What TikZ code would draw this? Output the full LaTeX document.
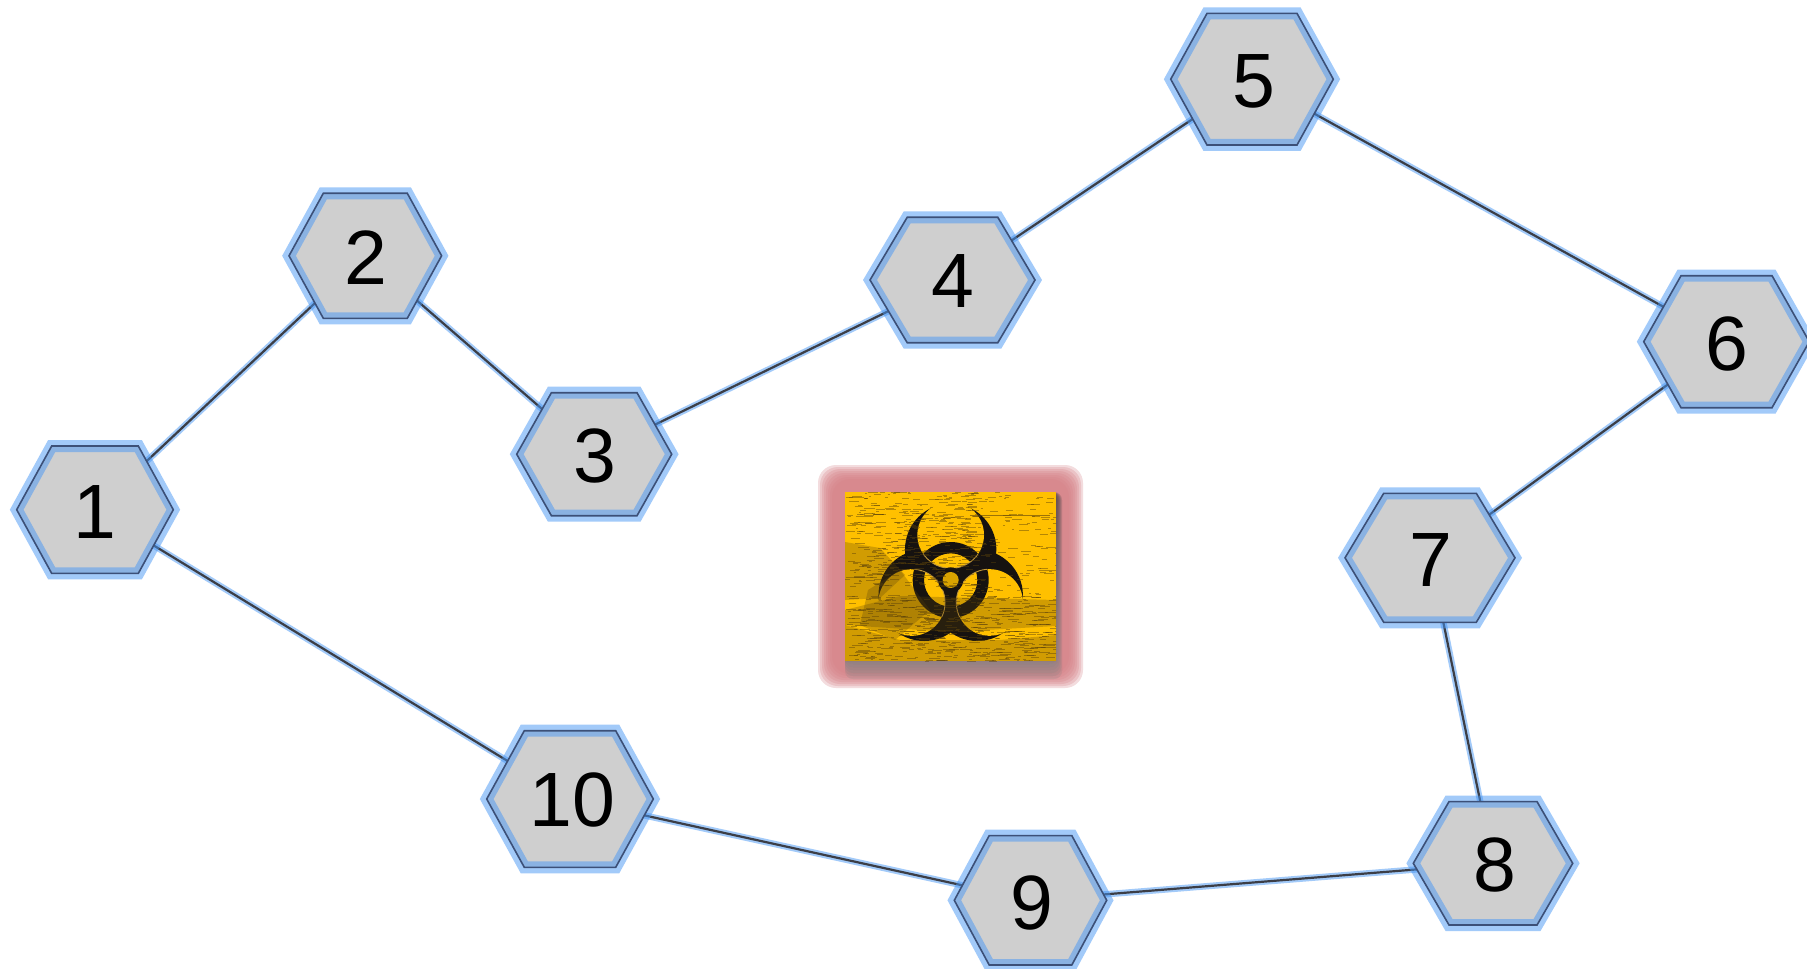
\documentclass[tikz,border=0pt]{standalone}
\usepackage{fontspec}
\setmainfont{Liberation Sans}
\usetikzlibrary{backgrounds}
\definecolor{hexgray}{RGB}{207,207,207}
\definecolor{glowblue}{RGB}{70,150,245}
\definecolor{hexdark}{RGB}{60,80,120}
\definecolor{linkdark}{RGB}{60,62,70}
\definecolor{plate}{RGB}{255,192,0}
\definecolor{halo}{RGB}{214,128,134}
\definecolor{shade}{RGB}{150,70,75}
\definecolor{inkbrown}{RGB}{90,65,10}
\definecolor{seam}{RGB}{190,150,60}
\definecolor{symbolink}{RGB}{22,18,16}
\tikzset{
  hexanchor/.style={inner sep=0pt,minimum size=2pt},
  hexfill/.style={fill=hexgray},
  hexglow/.style={draw=glowblue,draw opacity=.5,line width=6pt,miter limit=10},
  hexline/.style={draw=hexdark,line width=.8pt},
  digit/.style={inner sep=0pt,text=black,font=\fontsize{38.5}{40}\selectfont},
  linkglow/.style={draw=glowblue,draw opacity=.5,line width=3.2pt},
  linkline/.style={draw=linkdark,line width=1.1pt},
  scribble/.style={draw=inkbrown,draw opacity=.45,line width=.35pt},
  smudge/.style={fill=inkbrown,fill opacity=.28}
}
\newcommand{\hexnode}[9]{%
  \path[hexfill] ({#2-#4},#3) -- ({#2-#6},{#3-#5}) -- ({#2+#6},{#3-#5}) -- ({#2+#4},#3) -- ({#2+#6},{#3+#5}) -- ({#2-#6},{#3+#5}) -- cycle;
  \path[hexglow] ({#2-#4},#3) -- ({#2-#6},{#3-#5}) -- ({#2+#6},{#3-#5}) -- ({#2+#4},#3) -- ({#2+#6},{#3+#5}) -- ({#2-#6},{#3+#5}) -- cycle;
  \path[hexline] ({#2-#4},#3) -- ({#2-#6},{#3-#5}) -- ({#2+#6},{#3-#5}) -- ({#2+#4},#3) -- ({#2+#6},{#3+#5}) -- ({#2-#6},{#3+#5}) -- cycle;
  \node[hexanchor] (n#1) at (#2,#3) {};
  \node[digit] (t#1) at (#7,#8) {#9};
}
\begin{document}
\begin{tikzpicture}[x=0.5pt,y=-0.5pt]
\useasboundingbox (0,0) rectangle (1807,968);
\begin{pgfonlayer}{background}
  \fill[white] (0,0) rectangle (1807,968);
\end{pgfonlayer}

% hexagons
\hexnode{1}{95}{509.7}{78.3}{63.7}{43.3}{95}{511.7}{1}
\hexnode{2}{365.3}{255.8}{76.3}{62.5}{42}{366}{258}{2}
\hexnode{3}{594.2}{454.2}{77.5}{61.5}{42.8}{595.3}{456.3}{3}
\hexnode{4}{952.5}{280}{82.5}{62.7}{45.3}{953}{281.3}{4}
\hexnode{5}{1252}{79.2}{81.3}{65.8}{45}{1254.3}{81.3}{5}
\hexnode{6}{1726.5}{341.7}{82.8}{66}{45.5}{1727.3}{344}{6}
\hexnode{7}{1430}{557.8}{85}{64.5}{46.3}{1431}{560}{7}
\hexnode{8}{1493}{863.3}{79.7}{61.7}{44}{1495.3}{865.3}{8}
\hexnode{9}{1030.5}{900.3}{76.2}{64.7}{41.3}{1032.3}{902.7}{9}
\hexnode{10}{570}{799}{83.3}{68.3}{45.7}{572.7}{800.3}{10}

% connectors, under the hexagons
\begin{pgfonlayer}{background}
  \foreach \a/\b in {1/2,2/3,3/4,4/5,5/6,6/7,7/8,8/9,9/10,10/1}{
    \draw[linkglow] (n\a.center) -- (n\b.center);
    \draw[linkline] (n\a.center) -- (n\b.center);
  }
\end{pgfonlayer}

% halo of the emblem
\foreach \k in {27,25,23,21,19,17,15,13}{
  \fill[halo,fill opacity=.27,rounded corners=9pt] ({845-\k},{492-\k}) rectangle ({1056+\k},{661+\k});
}
\foreach \k in {18,15,12,9,6,3}{
  \fill[shade,fill opacity=.11,rounded corners=4pt] (845,492) rectangle ({1056+\k/3},{661+\k});
}

% emblem plate
\fill[plate] (845,492) rectangle (1056,661);

% biohazard symbol
\begin{scope}[shift={(950.67,580)},x=0.16667pt,y=0.16667pt]
  \foreach \r in {90,210,330}{ \fill[symbolink] (\r:92) circle (137); }
  \foreach \r in {90,210,330}{ \fill[plate] (\r:135) circle (100); }
  \fill[symbolink,even odd rule] (0,0) circle (114) (0,0) circle (80);
  \foreach \r in {210,330}{
    \begin{scope}
      \clip (0,0) circle (114);
      \draw[seam,line width=.45pt] (\r:135) circle (100);
    \end{scope}
  }
  \begin{scope}
    \clip (0,0) circle (114);
    \draw[seam,line width=.45pt] (90:135) circle (100);
  \end{scope}
  \fill[symbolink] (0,0) circle (38);
  \fill[plate!85!black] (0,0) circle (24);
\end{scope}

% aged paper texture
\begin{scope}
  \clip (845,492) rectangle (1056,661);
  \fill[smudge] (845,610) -- (900,596) -- (1056,600) -- (1056,626) -- (950,632) -- (845,625) -- cycle;
  \fill[smudge] (845,625) -- (900,640) -- (1000,640) -- (1056,635) -- (1056,661) -- (845,661) -- cycle;
  \fill[smudge] (845,542) -- (880,548) -- (905,575) -- (880,598) -- (845,600) -- cycle;
  \fill[smudge] (868,590) -- (900,570) -- (930,610) -- (895,640) -- (860,625) -- cycle;
  \pgfmathsetseed{4711}
  \foreach \i in {1,...,420}{
    \pgfmathsetmacro\xa{845+rnd*130}
    \pgfmathsetmacro\ya{492+rnd*95}
    \pgfmathsetmacro\ln{2+rnd*9}
    \draw[scribble] (\xa,\ya) -- ++(\ln,0);
  }
  \foreach \i in {1,...,140}{
    \pgfmathsetmacro\xa{960+rnd*96}
    \pgfmathsetmacro\ya{492+rnd*108}
    \pgfmathsetmacro\ln{2+rnd*8}
    \draw[scribble] (\xa,\ya) -- ++(\ln,0);
  }
  \foreach \i in {1,...,520}{
    \pgfmathsetmacro\xa{845+rnd*211}
    \pgfmathsetmacro\ya{595+rnd*66}
    \pgfmathsetmacro\ln{2+rnd*10}
    \draw[scribble] (\xa,\ya) -- ++(\ln,0);
  }
  \draw[draw=inkbrown,draw opacity=.6,line width=.5pt] (970,515) -- (1050,515);
\end{scope}
\end{tikzpicture}
\end{document}
